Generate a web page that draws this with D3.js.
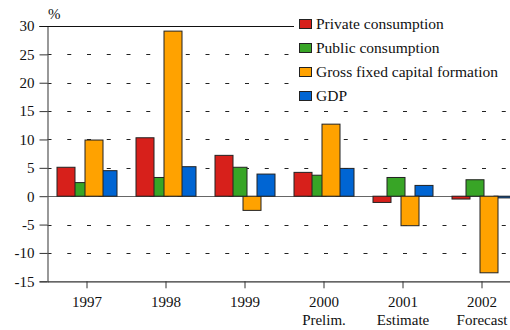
<!DOCTYPE html>
<html>
<head>
<meta charset="utf-8">
<script src="https://cdn.jsdelivr.net/npm/d3@7/dist/d3.min.js"></script>
<style>
  html, body { margin: 0; padding: 0; background: #fff; }
  svg text { font-family: "Liberation Serif", "Times New Roman", "DejaVu Serif", serif; }
</style>
</head>
<body>
<svg id="chart" width="510" height="330"></svg>
<script>
// Annual change, per cent
const years = ["1997", "1998", "1999", "2000", "2001", "2002"];
const yearNotes = ["", "", "", "Prelim.", "Estimate", "Forecast"];
const seriesNames = ["Private consumption", "Public consumption", "Gross fixed capital formation", "GDP"];
const privateConsumption = [5.1, 10.3, 7.2, 4.2, -1.1, -0.5];
const publicConsumption = [2.4, 3.3, 5.1, 3.7, 3.3, 2.9];
const grossFixedCapital = [9.9, 29.1, -2.5, 12.7, -5.2, -13.5];
const gdp = [4.5, 5.2, 3.9, 4.9, 1.9, -0.3];
const yTicks = [30, 25, 20, 15, 10, 5, 0, -5, -10, -15];
const colors = ["#d7201b", "#38a526", "#ffa200", "#0065d3"];

const seriesValues = [privateConsumption, publicConsumption, grossFixedCapital, gdp];

const svg = d3.select("#chart");
const plotLeft = 47.5, plotTop = 26, plotBottom = 281.3;

const x0 = d3.scaleBand().domain(years).range([plotLeft, plotLeft + 79 * 6]);
// Bars within a group overlap: 18 px wide, offset 14 px
const x1 = d3.scaleLinear().domain([0, 3]).range([-30, 12]);
const barW = 18;
const y = d3.scaleLinear().domain([-15, 30]).range([plotBottom, plotTop]);

// Dashed grid lines
svg.append("g")
  .selectAll("line")
  .data(yTicks.filter(t => t !== 30 && t !== 0 && t !== -15))
  .join("line")
  .attr("x1", plotLeft).attr("x2", 510)
  .attr("y1", d => Math.round(y(d)) + 0.5).attr("y2", d => Math.round(y(d)) + 0.5)
  .attr("stroke", "#222").attr("stroke-width", 1)
  .attr("stroke-dasharray", "4,15.75");

// Bars, larger magnitudes drawn on top
const bars = [];
years.forEach((yr, i) => {
  seriesValues.forEach((vals, s) => bars.push({ yr, s, v: vals[i] }));
});
const ordered = d3.groups(bars, d => d.yr)
  .flatMap(([, g]) => g.slice().sort((a, b) => Math.abs(a.v) - Math.abs(b.v)));

// Zero line
svg.append("line")
  .attr("x1", plotLeft).attr("x2", 510)
  .attr("y1", Math.round(y(0)) + 0.5).attr("y2", Math.round(y(0)) + 0.5)
  .attr("stroke", "#666").attr("stroke-width", 1.2);

svg.append("g")
  .selectAll("rect")
  .data(ordered)
  .join("rect")
  .attr("x", d => x0(d.yr) + x0.bandwidth() / 2 + x1(d.s))
  .attr("width", barW)
  .attr("y", d => Math.min(y(d.v), y(0)))
  .attr("height", d => Math.abs(y(d.v) - y(0)))
  .attr("fill", d => colors[d.s])
  .attr("stroke", "#222")
  .attr("stroke-width", 1);

const serif = "Liberation Serif, Times New Roman, serif";

// Left axis
const yAxis = d3.axisLeft(y).tickValues(yTicks).tickSize(8).tickPadding(5).tickFormat(d => String(d));
const gy = svg.append("g").attr("transform", `translate(${plotLeft},0)`).call(yAxis)
  .attr("font-family", serif).attr("font-size", 15);
gy.select(".domain").attr("stroke", "#555").attr("stroke-width", 1.2);
gy.selectAll(".tick line").attr("stroke", "#333");
gy.selectAll("text").attr("fill", "#111");

// Bottom axis
const xAxis = d3.axisBottom(x0).tickSize(7).tickSizeOuter(0).tickPadding(8);
const gx = svg.append("g").attr("transform", `translate(0,${plotBottom})`).call(xAxis)
  .attr("font-family", serif).attr("font-size", 15);
gx.select(".domain").attr("stroke", "#333").attr("stroke-width", 1.2);
gx.selectAll(".tick line").attr("stroke", "#333");
gx.selectAll("text").attr("fill", "#111");
gx.selectAll(".tick").append("text")
  .attr("y", 44).attr("fill", "#111").attr("text-anchor", "middle")
  .text((d, i) => yearNotes[i]);

// Top frame line
svg.append("line")
  .attr("x1", plotLeft - 8).attr("x2", 510)
  .attr("y1", Math.round(y(30)) + 0.5).attr("y2", Math.round(y(30)) + 0.5)
  .attr("stroke", "#111").attr("stroke-width", 1.2);

// Unit label
svg.append("text").attr("x", 48).attr("y", 19).attr("font-size", 15).attr("fill", "#111").text("%");

// Legend
const lg = svg.append("g");
lg.append("rect").attr("x", 294).attr("y", 8).attr("width", 216).attr("height", 97).attr("fill", "#fff");
const items = lg.selectAll("g.item").data(seriesNames).join("g")
  .attr("class", "item")
  .attr("transform", (d, i) => `translate(299,${19 + i * 24})`);
items.append("rect").attr("x", 0.5).attr("y", 0.5).attr("width", 12).attr("height", 9)
  .attr("fill", (d, i) => colors[i]).attr("stroke", "#222").attr("stroke-width", 1);
items.append("text").attr("x", 17).attr("y", 10).attr("font-size", 15.5).attr("fill", "#111").text(d => d);
</script>
</body>
</html>
